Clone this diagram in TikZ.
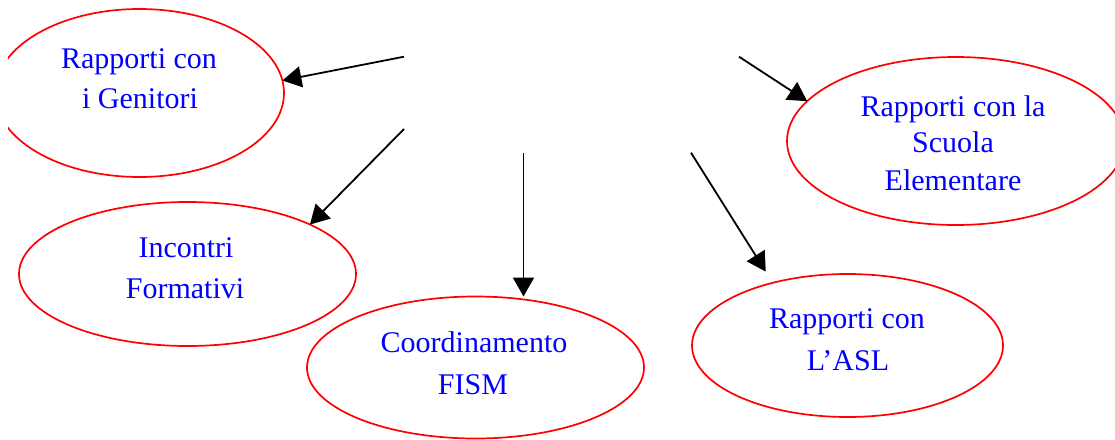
\documentclass[tikz,border=0pt]{standalone}
\usepackage{fontspec}
\setmainfont{Liberation Serif}
\usetikzlibrary{shapes.geometric,arrows.meta}
\definecolor{ered}{RGB}{255,0,0}
\definecolor{tblue}{RGB}{0,0,255}
\begin{document}
\begin{tikzpicture}[x=1pt,y=-1pt,
  oval/.style={ellipse,draw=ered,line width=1.7pt,inner sep=0pt,outer sep=0pt},
  lbl/.style={anchor=base,inner sep=0pt,text=tblue,font=\fontsize{30}{36}\selectfont},
  arr/.style={line width=1.8pt,-{Triangle[length=19pt,width=21pt]}}]
\useasboundingbox (0,0) rectangle (1115,439);
\clip (8,0) rectangle (1115,439);
% ellipses
\node[oval,minimum width=289pt,minimum height=168pt] (gen) at (139.5,93) {};
\node[oval,minimum width=337.6pt,minimum height=168pt] (sc) at (955.8,141) {};
\node[oval,minimum width=337pt,minimum height=144pt] (inc) at (187.5,274) {};
\node[oval,minimum width=337pt,minimum height=142pt] (coo) at (475.5,367.5) {};
\node[oval,minimum width=311pt,minimum height=143pt] (asl) at (847.5,345.5) {};
% labels
\node[lbl] (gen1) at (139,68) {Rapporti con};
\node[lbl] (gen2) at (140,108) {i Genitori};
\node[lbl] (sc1) at (953,116.7) {Rapporti con la};
\node[lbl] (sc2) at (953,152.5) {Scuola};
\node[lbl] (sc3) at (953,190.5) {Elementare};
\node[lbl] (inc1) at (186,257.3) {Incontri};
\node[lbl] (inc2) at (185,298.3) {Formativi};
\node[lbl] (coo1) at (474,352.7) {Coordinamento};
\node[lbl] (coo2) at (473,394.3) {FISM};
\node[lbl] (asl1) at (847,328.3) {Rapporti con};
\node[lbl] (asl2) at (848,370) {L’ASL};
% free arrow starts
\coordinate (s1) at (404,56.7);
\coordinate (s2) at (404,129);
\coordinate (s3) at (523.5,152.7);
\coordinate (s4) at (691,152.7);
\coordinate (s5) at (739,56.7);
% arrows
\draw[arr] (s1) -- (gen.5);
\draw[arr] (s2) -- (inc.22.8);
\draw[arr] (s3) -- ([xshift=48pt]coo.north);
\draw[arr,shorten >=13.2pt] (s4) -- (asl.140.9);
\draw[arr] (s5) -- (sc.165);
\end{tikzpicture}
\end{document}
